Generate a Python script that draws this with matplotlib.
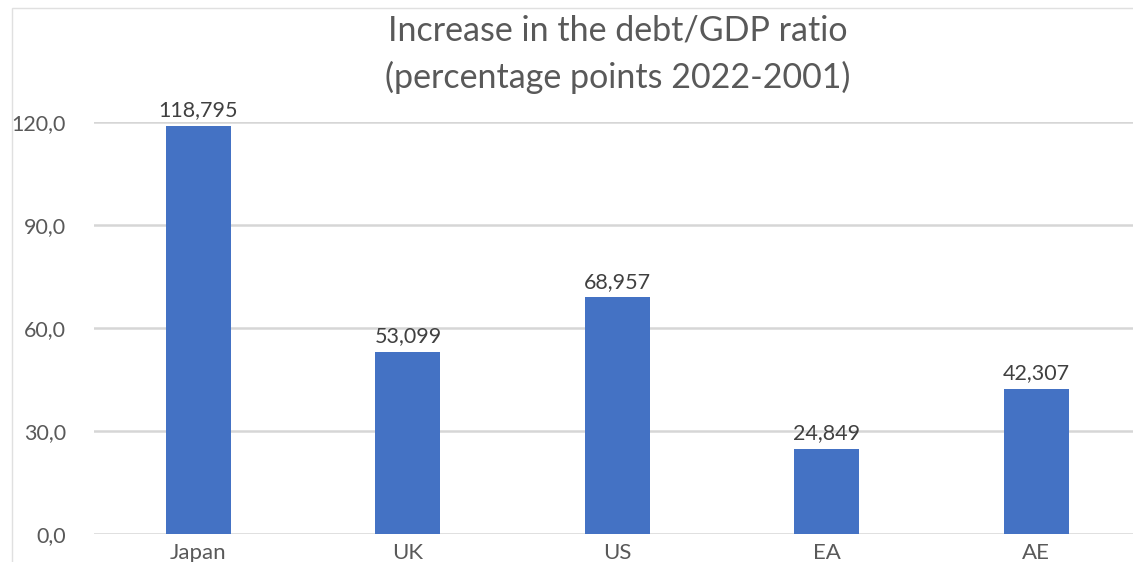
import matplotlib
matplotlib.use('Agg')
import matplotlib.pyplot as plt
import matplotlib.patches as patches
from matplotlib.ticker import FuncFormatter, MultipleLocator

plt.rcParams['font.family'] = ['Lato', 'DejaVu Sans']

countries = ['Japan', 'UK', 'US', 'EA', 'AE']
debt_increase = [118.795, 53.099, 68.957, 24.849, 42.307]
title_lines = ['Increase in the debt/GDP ratio', '(percentage points 2022-2001)']

W, H = 1133, 562
fig = plt.figure(figsize=(W / 100, H / 100), dpi=100)

# plot area in pixel units, converted to figure fractions
left, right = 93.75, 1141.0
bottom, top = 534.3, 122.0
ax = fig.add_axes([left / W, 1 - bottom / H, (right - left) / W, (bottom - top) / H])

x = range(len(countries))
bars = ax.bar(x, debt_increase, width=0.31, color='#4472C4', zorder=3)

ax.set_xlim(-0.5, len(countries) - 0.5)
ax.set_ylim(0, 120)
ax.yaxis.set_major_locator(MultipleLocator(30))
ax.yaxis.set_major_formatter(FuncFormatter(lambda v, p: f'{v:.1f}'.replace('.', ',')))
ax.set_xticks(list(x))
ax.set_xticklabels(countries)

ax.grid(axis='y', color='#d6d6d6', linewidth=1.8, zorder=0)
ax.set_axisbelow(True)
for s in ax.spines.values():
    s.set_visible(False)
ax.tick_params(axis='both', length=0, colors='#595959')
ax.tick_params(axis='y', pad=20, labelsize=15.5)
ax.tick_params(axis='x', pad=6, labelsize=16)

for b, v in zip(bars, debt_increase):
    ax.annotate(f'{v:.3f}'.replace('.', ','), (b.get_x() + b.get_width() / 2, v),
                xytext=(0, 4), textcoords='offset points',
                ha='center', va='bottom', fontsize=15.5, color='#404040')

title_x = (left + right) / 2 / W
fig.text(title_x, 1 - 31 / H, title_lines[0], ha='center', va='center',
         fontsize=24.5, color='#595959')
fig.text(title_x, 1 - 77 / H, title_lines[1], ha='center', va='center',
         fontsize=24.5, color='#595959')

# light frame of the chart area
frame = patches.Rectangle((11.5 / W, -0.1), 1.2, 1 - 7.5 / H + 0.1,
                          transform=fig.transFigure, fill=False,
                          edgecolor='#e0e0e0', linewidth=1)
fig.patches.append(frame)

fig.savefig('out.png', dpi=100)
